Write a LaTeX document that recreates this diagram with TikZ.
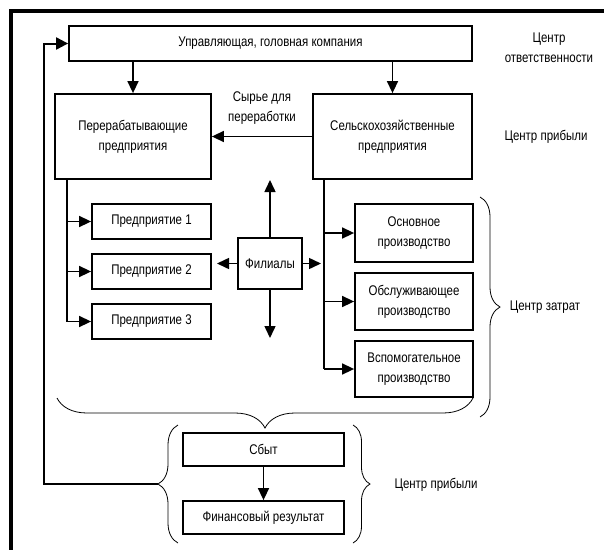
\documentclass[tikz,border=0pt]{standalone}
\usepackage{fontspec}
\setmainfont{Liberation Sans}[FakeStretch=0.82]
\usetikzlibrary{arrows.meta,decorations.pathreplacing}
\begin{document}
\begin{tikzpicture}[x=1pt,y=-1pt,
  font=\fontsize{14}{20}\selectfont,
  box/.style={draw,line width=1.8pt,align=center,inner sep=0pt,anchor=center},
  conn/.style={line width=1.5pt},
  arr/.style={line width=1.5pt,-{Triangle[length=12pt,width=11pt]}},
  brc/.style={line width=0.8pt,decorate,decoration={brace,amplitude=#1}},
  lbl/.style={align=center,inner sep=0pt}]
\useasboundingbox (0,0) rectangle (604,549);
\draw[line width=4pt] (11,560) -- (11,11) -- (615,11);
% boxes
\node[box,minimum width=403pt,minimum height=35pt] (top) at (270.5,43.5) {Управляющая, головная компания};
\node[box,minimum width=156pt,minimum height=85pt] (per) at (133,136.5) {Перерабатывающие\\предприятия};
\node[box,minimum width=159pt,minimum height=85pt] (sel) at (392.5,136.5) {Сельскохозяйственные\\предприятия};
\node[box,minimum width=119pt,minimum height=35pt] (p1) at (151.5,221.5) {Предприятие 1};
\node[box,minimum width=119pt,minimum height=35pt] (p2) at (151.5,271.5) {Предприятие 2};
\node[box,minimum width=119pt,minimum height=35pt] (p3) at (151.5,321.5) {Предприятие 3};
\node[box,minimum width=64pt,minimum height=51pt] (fil) at (270,263.5) {Филиалы};
\node[box,minimum width=118pt,minimum height=58pt] (osn) at (414,233) {Основное\\производство};
\node[box,minimum width=118pt,minimum height=57pt] (obs) at (414,301.5) {Обслуживающее\\производство};
\node[box,minimum width=118pt,minimum height=56pt] (vsp) at (414,369) {Вспомогательное\\производство};
\node[box,minimum width=161pt,minimum height=33pt] (sbyt) at (263.5,449.5) {Сбыт};
\node[box,minimum width=161pt,minimum height=33pt] (fin) at (263.5,517.5) {Финансовый результат};
% labels
\node[lbl] (syr) at (262,108) {Сырье для\\переработки};
\node[lbl] (cotv) at (549,48) {Центр\\ответственности};
\node[lbl] (cpr1) at (546,136.5) {Центр прибыли};
\node[lbl] (czat) at (545,307) {Центр затрат};
\node[lbl] (cpr2) at (436,485) {Центр прибыли};
% coordinates
\coordinate (lt) at (67,179);
\coordinate (rt) at (324,179);
\coordinate (fu) at (270,180);
\coordinate (fd) at (270,338);
\coordinate (fl) at (217,263.5);
\coordinate (fr) at (321,263.5);
\coordinate (fb) at (158,484);
\coordinate (fbx) at (44,484);
% connectors
\draw[arr] (per.north |- top.south) -- (per.north);
\draw[arr] (sel.north |- top.south) -- (sel.north);
\draw[arr] (sel.west) -- (per.east);
\draw[conn] (lt) -- (lt |- p3.west);
\draw[arr] (lt |- p1.west) -- (p1.west);
\draw[arr] (lt |- p2.west) -- (p2.west);
\draw[arr] (lt |- p3.west) -- (p3.west);
\draw[conn] (rt) -- (rt |- vsp.west);
\draw[arr] (rt |- osn.west) -- (osn.west);
\draw[arr] (rt |- obs.west) -- (obs.west);
\draw[arr] (rt |- vsp.west) -- (vsp.west);
\draw[arr] (fil.north) -- (fu);
\draw[arr] (fil.south) -- (fd);
\draw[arr] (fil.west) -- (fl);
\draw[arr] (fil.east) -- (fr);
\draw[arr] (sbyt.south) -- (fin.north);
\draw[line width=2pt,-{Triangle[length=12pt,width=12pt]}] (fb) -- (fbx) -- (fbx |- top.west) -- (top.west);
% braces
\draw[brc=20pt] (480,197) -- (480,417);
\draw[brc=30pt] (473,398) -- (57,398);
\draw[brc=20pt] (178,543) -- (178,425);
\draw[brc=17pt] (353,425) -- (353,543);
\end{tikzpicture}
\end{document}
